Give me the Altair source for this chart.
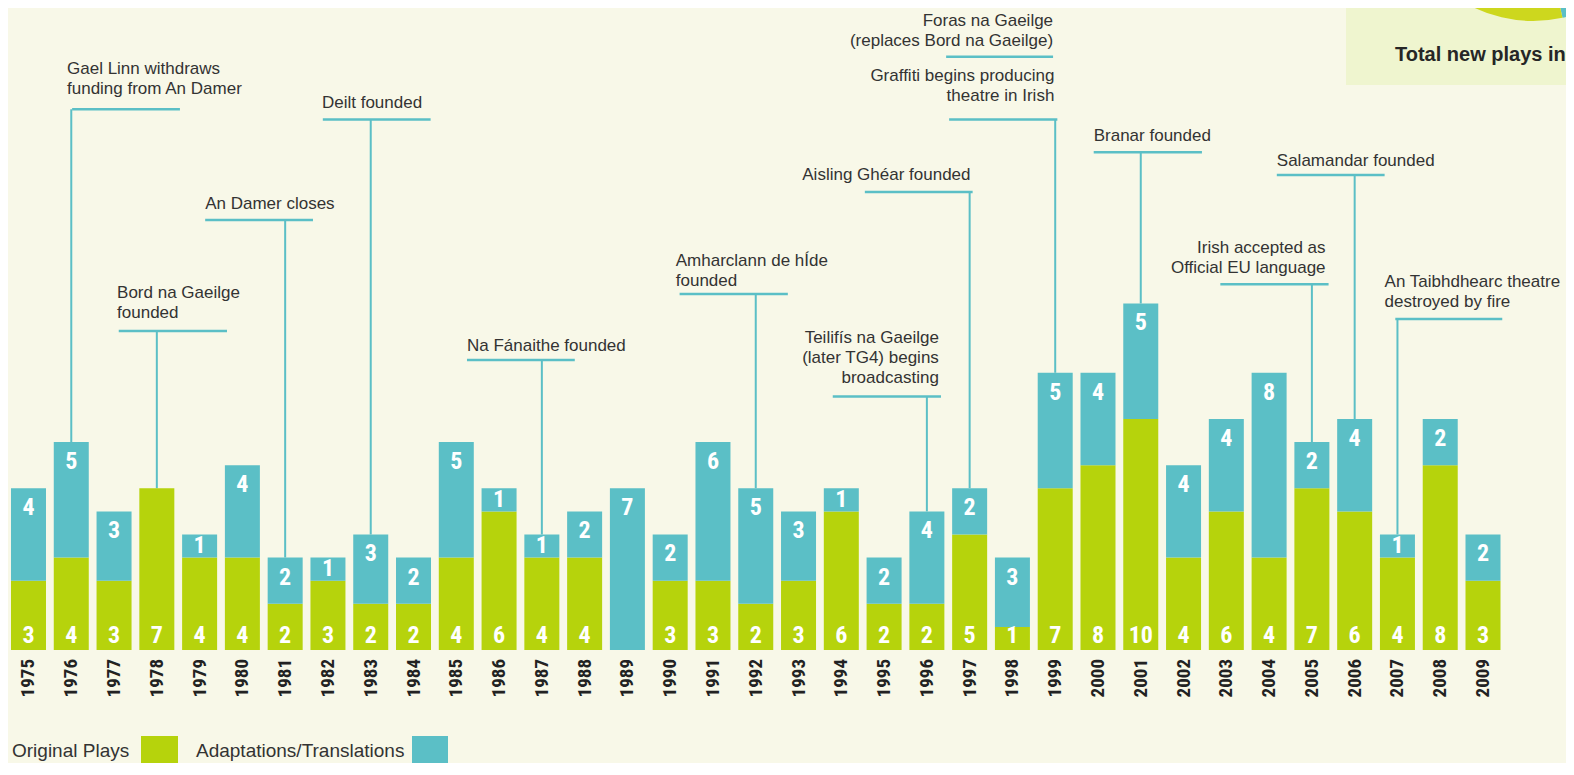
import math
import altair as alt
import pandas as pd

# ---------------- data ----------------
years = list(range(1975, 2010))
original_plays = [3, 4, 3, 7, 4, 4, 2, 3, 2, 2,
                  4, 6, 4, 4, 0, 3, 3, 2, 3, 6,
                  2, 2, 5, 1, 7, 8, 10, 4, 6, 4,
                  7, 6, 4, 8, 3]
adaptations = [4, 5, 3, 0, 1, 4, 2, 1, 3, 2,
               5, 1, 1, 2, 7, 2, 6, 5, 3, 1,
               2, 4, 2, 3, 5, 4, 5, 4, 4, 8,
               2, 4, 1, 2, 2]
series_names = ["Original Plays", "Adaptations/Translations"]

event_years = [1976, 1978, 1981, 1983, 1987, 1992, 1996, 1997, 1999, 1999,
               2001, 2005, 2006, 2007]
event_texts = [
    ["Gael Linn withdraws", "funding from An Damer"],
    ["Bord na Gaeilge", "founded"],
    ["An Damer closes"],
    ["Deilt founded"],
    ["Na Fánaithe founded"],
    ["Amharclann de hÍde", "founded"],
    ["Teilifís na Gaeilge", "(later TG4) begins", "broadcasting"],
    ["Aisling Ghéar founded"],
    ["Graffiti begins producing", "theatre in Irish"],
    ["Foras na Gaeilge", "(replaces Bord na Gaeilge)"],
    ["Branar founded"],
    ["Irish accepted as", "Official EU language"],
    ["Salamandar founded"],
    ["An Taibhdhearc theatre", "destroyed by fire"],
]
box_title = "Total new plays in"

# ---------------- layout / style ----------------
W, H = 1558, 755
PX_PER_PLAY = 23.1
x_scale = alt.Scale(domain=[1974.521, 2010.94], nice=False, zero=False, padding=0)
y_scale = alt.Scale(domain=[-4.892, 27.792], nice=False, zero=False, padding=0)

GREEN, TEAL = "#b6d30c", "#5bbfc6"
PIE_GREEN = "#cdd71e"
BG = "#f8f8e8"
BOX = "#eff5cf"
TXT = "#333333"
ANNOT_FONT = "Liberation Sans"
NUM_FONT = "Roboto Condensed, Liberation Sans Narrow, DejaVu Sans Condensed, Roboto"

# per event: leader level (plays units), leader start/end (years from event),
# text x offset (years), text align, gap above leader (px), has stem
event_layout = [
    (23.41, 0.02, 2.54, -0.10, "left", 15, True),
    (13.81, -0.89, 1.64, -0.93, "left", 13, True),
    (18.61, -1.87, 0.65, -1.87, "left", 11, True),
    (22.97, -1.12, 1.40, -1.14, "left", 11.6, True),
    (12.55, -1.75, 0.77, -1.75, "left", 9.3, True),
    (15.41, -1.78, 0.75, -1.87, "left", 8.3, True),
    (10.97, -2.20, 0.33, 0.28, "right", 14, True),
    (19.83, -2.45, 0.07, 0.02, "right", 12, True),
    (22.97, -2.48, 0.05, -0.02, "right", 18.6, True),
    (25.68, -2.55, -0.05, -0.05, "right", 10.7, False),
    (21.55, -1.10, 1.43, -1.10, "left", 11, True),
    (15.83, -2.14, 0.39, 0.32, "right", 11.6, True),
    (20.56, -1.82, 0.70, -1.82, "left", 9, True),
    (14.33, -0.05, 2.45, -0.30, "left", 12.3, True),
]
LINE_H = 20

# ---------------- tables ----------------
totals = [o + a for o, a in zip(original_plays, adaptations)]

bar_rows = []
for y, o, a in zip(years, original_plays, adaptations):
    if o > 0:
        bar_rows.append({"year": y, "type": series_names[0], "y0": 0, "y1": o})
    if a > 0:
        bar_rows.append({"year": y, "type": series_names[1], "y0": o, "y1": o + a})
bars_df = pd.DataFrame(bar_rows)

orig_lab = pd.DataFrame([{"year": y, "base": 0, "v": str(o)}
                         for y, o in zip(years, original_plays) if o > 0])
adapt_lab = pd.DataFrame([{"year": y, "pos": t - min(a / 2, 20 / PX_PER_PLAY), "v": str(a)}
                          for y, a, t in zip(years, adaptations, totals) if a > 0])
year_lab = pd.DataFrame({"year": years, "base": [0] * len(years),
                         "v": [str(y) for y in years]})

top_of = dict(zip(years, totals))
hl_rows, stem_rows, txt_rows = [], [], []
for yr, lines, lay in zip(event_years, event_texts, event_layout):
    level, dx1, dx2, tdx, align, gap, stem = lay
    hl_rows.append({"x1": yr + dx1, "x2": yr + dx2, "level": level})
    if stem:
        stem_rows.append({"year": yr, "level": level, "top": top_of[yr]})
    n = len(lines)
    for i, line in enumerate(lines):
        txt_rows.append({"x": yr + tdx, "y": level + (gap + (n - 1 - i) * LINE_H) / PX_PER_PLAY,
                         "t": line, "align": align})
hl_df = pd.DataFrame(hl_rows)
stem_df = pd.DataFrame(stem_rows)
txt_df = pd.DataFrame(txt_rows)

pie_df = pd.DataFrame({"type": [series_names[1], series_names[0]],
                       "total": [sum(adaptations), sum(original_plays)],
                       "ord": [0, 1]})
one = pd.DataFrame({"k": [0]})

X = lambda f: alt.X(f, scale=x_scale, axis=None)
Y = lambda f: alt.Y(f, scale=y_scale, axis=None)

# ---------------- layers ----------------
box = alt.Chart(one).mark_rect(color=BOX).encode(
    x=alt.value(1338), x2=alt.value(1575), y=alt.value(-10), y2=alt.value(77))

pie = alt.Chart(pie_df).mark_arc(radius=137).encode(
    theta=alt.Theta("total:Q", stack=True,
                    scale=alt.Scale(range=[0.225, 0.225 + 2 * math.pi])),
    color=alt.Color("type:N", scale=alt.Scale(domain=series_names, range=[PIE_GREEN, TEAL]),
                    legend=None),
    order=alt.Order("ord:Q"),
    x=alt.value(1525), y=alt.value(-124))

box_text = alt.Chart(one).mark_text(
    text=box_title, align="left", baseline="alphabetic", font=ANNOT_FONT,
    fontSize=20, fontWeight="bold", color="#262626").encode(
    x=alt.value(1387), y=alt.value(53))

hlines = alt.Chart(hl_df).mark_rule(color=TEAL, strokeWidth=2.5).encode(
    x=X("x1:Q"), x2="x2:Q", y=Y("level:Q"))
stems = alt.Chart(stem_df).mark_rule(color=TEAL, strokeWidth=2).encode(
    x=X("year:Q"), y=Y("level:Q"), y2="top:Q")

ann_left = alt.Chart(txt_df[txt_df["align"] == "left"]).mark_text(
    align="left", baseline="alphabetic", font=ANNOT_FONT, fontSize=17, color=TXT).encode(
    x=X("x:Q"), y=Y("y:Q"), text="t:N")
ann_right = alt.Chart(txt_df[txt_df["align"] == "right"]).mark_text(
    align="right", baseline="alphabetic", font=ANNOT_FONT, fontSize=17, color=TXT).encode(
    x=X("x:Q"), y=Y("y:Q"), text="t:N")

bars = alt.Chart(bars_df).mark_bar(width=35).encode(
    x=X("year:Q"), y=Y("y0:Q"), y2="y1:Q",
    color=alt.Color("type:N", scale=alt.Scale(domain=series_names, range=[GREEN, TEAL]),
                    legend=None))

orig_text = alt.Chart(orig_lab).mark_text(
    baseline="middle", dy=-14, font=NUM_FONT, fontSize=24, fontWeight="bold",
    color="white").encode(x=X("year:Q"), y=Y("base:Q"), text="v:N")
adapt_text = alt.Chart(adapt_lab).mark_text(
    baseline="middle", font=NUM_FONT, fontSize=24, fontWeight="bold",
    color="white").encode(x=X("year:Q"), y=Y("pos:Q"), text="v:N")

year_text = alt.Chart(year_lab).mark_text(
    angle=270, align="right", baseline="middle", dx=-9, font=NUM_FONT,
    fontSize=19, fontWeight="bold", color="#222222").encode(
    x=X("year:Q"), y=Y("base:Q"), text="v:N")

leg_t1 = alt.Chart(one).mark_text(
    text=series_names[0], align="left", baseline="alphabetic", font=ANNOT_FONT,
    fontSize=19, color=TXT).encode(x=alt.value(4), y=alt.value(749))
leg_r1 = alt.Chart(one).mark_rect(color=GREEN).encode(
    x=alt.value(133), x2=alt.value(170), y=alt.value(728), y2=alt.value(760))
leg_t2 = alt.Chart(one).mark_text(
    text=series_names[1], align="left", baseline="alphabetic", font=ANNOT_FONT,
    fontSize=19, color=TXT).encode(x=alt.value(188), y=alt.value(749))
leg_r2 = alt.Chart(one).mark_rect(color=TEAL).encode(
    x=alt.value(404), x2=alt.value(440), y=alt.value(728), y2=alt.value(760))

chart = alt.layer(
    box, pie, box_text, hlines, stems, ann_left, ann_right, bars,
    orig_text, adapt_text, year_text, leg_t1, leg_r1, leg_t2, leg_r2
).resolve_scale(color="independent").properties(
    width=W, height=H, autosize=alt.AutoSizeParams(type="none"), padding=0,
    background=BG
).configure_view(stroke=None)

chart.save("out.html", embed_options={"renderer": "svg", "actions": False})
